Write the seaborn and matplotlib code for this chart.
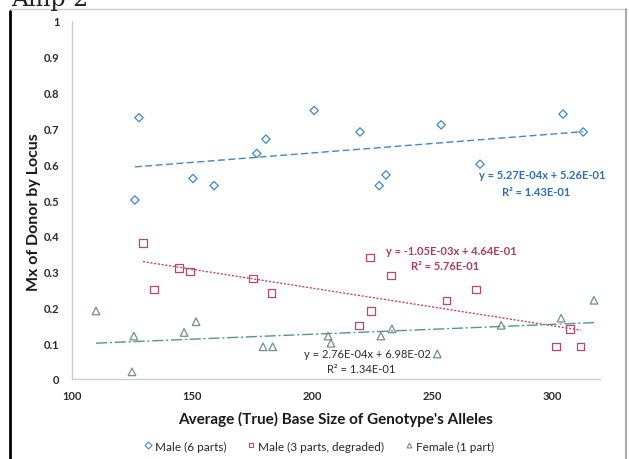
import numpy as np
import pandas as pd
import matplotlib
matplotlib.use("Agg")
import matplotlib.pyplot as plt
from matplotlib.lines import Line2D
import seaborn as sns

# ---- data ----
male6_x = [126.2, 127.9, 150.4, 159.2, 177.0, 180.8, 200.9, 220.0, 228.0, 230.8, 253.8, 270.0, 304.6, 313.0]
male6_y = [0.50, 0.73, 0.56, 0.54, 0.63, 0.67, 0.75, 0.69, 0.54, 0.57, 0.71, 0.60, 0.74, 0.69]

male3_x = [129.6, 134.2, 144.6, 149.2, 175.4, 183.0, 219.6, 224.2, 224.6, 232.9, 256.0, 268.3, 301.7, 307.5, 312.0]
male3_y = [0.38, 0.25, 0.31, 0.30, 0.28, 0.24, 0.15, 0.34, 0.19, 0.29, 0.22, 0.25, 0.09, 0.14, 0.09]

female_x = [110.0, 125.0, 125.8, 146.7, 151.7, 179.6, 183.6, 206.7, 207.9, 228.7, 233.3, 252.2, 278.8, 303.8, 317.5]
female_y = [0.19, 0.02, 0.12, 0.13, 0.16, 0.09, 0.09, 0.12, 0.10, 0.12, 0.14, 0.07, 0.15, 0.17, 0.22]

series_names = ["Male (6 parts)", "Male (3 parts, degraded)", "Female (1 part)"]
slopes = [5.27e-04, -1.05e-03, 2.76e-04]
intercepts = [5.26e-01, 4.64e-01, 6.98e-02]
eq_lines = ["y = 5.27E-04x + 5.26E-01", "y = -1.05E-03x + 4.64E-01", "y = 2.76E-04x + 6.98E-02"]
r2_lines = ["R² = 1.43E-01", "R² = 5.76E-01", "R² = 1.34E-01"]
x_ticks = [100, 150, 200, 250, 300]
y_ticks = [0, 0.1, 0.2, 0.3, 0.4, 0.5, 0.6, 0.7, 0.8, 0.9, 1]
y_ticklabels = ["0", "0.1", "0.2", "0.3", "0.4", "0.5", "0.6", "0.7", "0.8", "0.9", "1"]

# ---- style ----
sns.set_theme(style="white")
plt.rcParams["font.family"] = ["Lato", "DejaVu Sans"]

colors = ["#3E88C6", "#B9466C", "#6F8F8E"]
line_colors = ["#3E88C6", "#C0476E", "#4E9A8E"]
text_colors = ["#2F6FB0", "#B03A5E", "#2B2B2B"]
text_weights = ["bold", "bold", "normal"]
markers = ["D", "s", "^"]
msizes = [18, 28, 30]
line_styles = [(0, (5, 2.5)), (0, (1.5, 1.2)), (0, (8, 2, 1.5, 2))]

df = pd.concat([
    pd.DataFrame({"x": male6_x, "y": male6_y, "series": series_names[0]}),
    pd.DataFrame({"x": male3_x, "y": male3_y, "series": series_names[1]}),
    pd.DataFrame({"x": female_x, "y": female_y, "series": series_names[2]}),
], ignore_index=True)

fig = plt.figure(figsize=(6.29, 4.60), dpi=100)
ax = fig.add_axes([72 / 629, 1 - 380 / 460, (600 - 72) / 629, (380 - 22) / 460])

for i, name in enumerate(series_names):
    sub = df[df["series"] == name]
    sns.scatterplot(data=sub, x="x", y="y", ax=ax, marker=markers[i], s=msizes[i],
                    facecolor="none", edgecolor=colors[i], linewidth=0.9,
                    legend=False, zorder=3)
    xs = np.array([sub["x"].min(), sub["x"].max()])
    ax.plot(xs, slopes[i] * xs + intercepts[i], color=line_colors[i],
            linestyle=line_styles[i], linewidth=1.0, zorder=2)

# equation annotations (centre x, first-line y, second-line y) in data units
eq_pos = [(295.8, 0.571, 0.524), (258.0, 0.358, 0.318), (223.0, 0.072, 0.028)]
for i, (cx, y1, y2) in enumerate(eq_pos):
    ax.text(cx, y1, eq_lines[i], color=text_colors[i], fontsize=8, fontweight=text_weights[i],
            ha="center", va="center")
    ax.text(cx - 2.5, y2, r2_lines[i], color=text_colors[i], fontsize=8, fontweight=text_weights[i],
            ha="center", va="center")

ax.set_xlim(100, 320)
ax.set_ylim(0, 1)
ax.set_xticks(x_ticks)
ax.set_xticklabels([str(t) for t in x_ticks])
ax.set_yticks(y_ticks)
ax.set_yticklabels(y_ticklabels)
ax.tick_params(axis="both", labelsize=8, colors="#BBBBBB", labelcolor="#2A2A2A",
               length=3, width=0.8, direction="out", pad=6)
ax.tick_params(axis="x", length=0, pad=8)
for lbl in ax.get_yticklabels() + ax.get_xticklabels():
    lbl.set_fontweight("bold")

for s in ["top", "right"]:
    ax.spines[s].set_visible(False)
for s in ["left", "bottom"]:
    ax.spines[s].set_color("#CCCCCC")
    ax.spines[s].set_linewidth(1.0)

ax.set_xlabel("Average (True) Base Size of Genotype's Alleles", fontsize=11,
              fontweight="bold", color="#1A1A1A", labelpad=7)
ax.set_ylabel("Mx of Donor by Locus", fontsize=11.5, fontweight="bold",
              color="#1A1A1A", labelpad=1)
ax.yaxis.set_label_coords(-0.058, 0.47)

# legend
handles = [Line2D([0], [0], marker=markers[i], linestyle="none", markersize=3.5,
                  markerfacecolor="none", markeredgecolor=colors[i], markeredgewidth=0.8)
           for i in range(3)]
fig.legend(handles, series_names, loc="center", bbox_to_anchor=(318 / 629, 1 - 447 / 460),
           ncol=3, frameon=False, fontsize=8.5, handletextpad=0.1, columnspacing=1.6,
           handlelength=1.0)

# frame lines of the screenshot
fig.add_artist(Line2D([10 / 629, 10 / 629], [0, 1 - 12 / 460], color="black", linewidth=2.0))
fig.add_artist(Line2D([10 / 629, 626 / 629], [1 - 10 / 460, 1 - 10 / 460], color="#CCCCCC", linewidth=1.0))
fig.add_artist(Line2D([626 / 629, 626 / 629], [0, 1 - 10 / 460], color="#999999", linewidth=1.2))

# partially visible title (cropped at the top in the reference)
fig.text(11 / 629, 1 - 6 / 460, "Amp 2", fontsize=17, family="DejaVu Serif",
         color="#222222", va="baseline", ha="left")

fig.savefig("out.png", dpi=100)
